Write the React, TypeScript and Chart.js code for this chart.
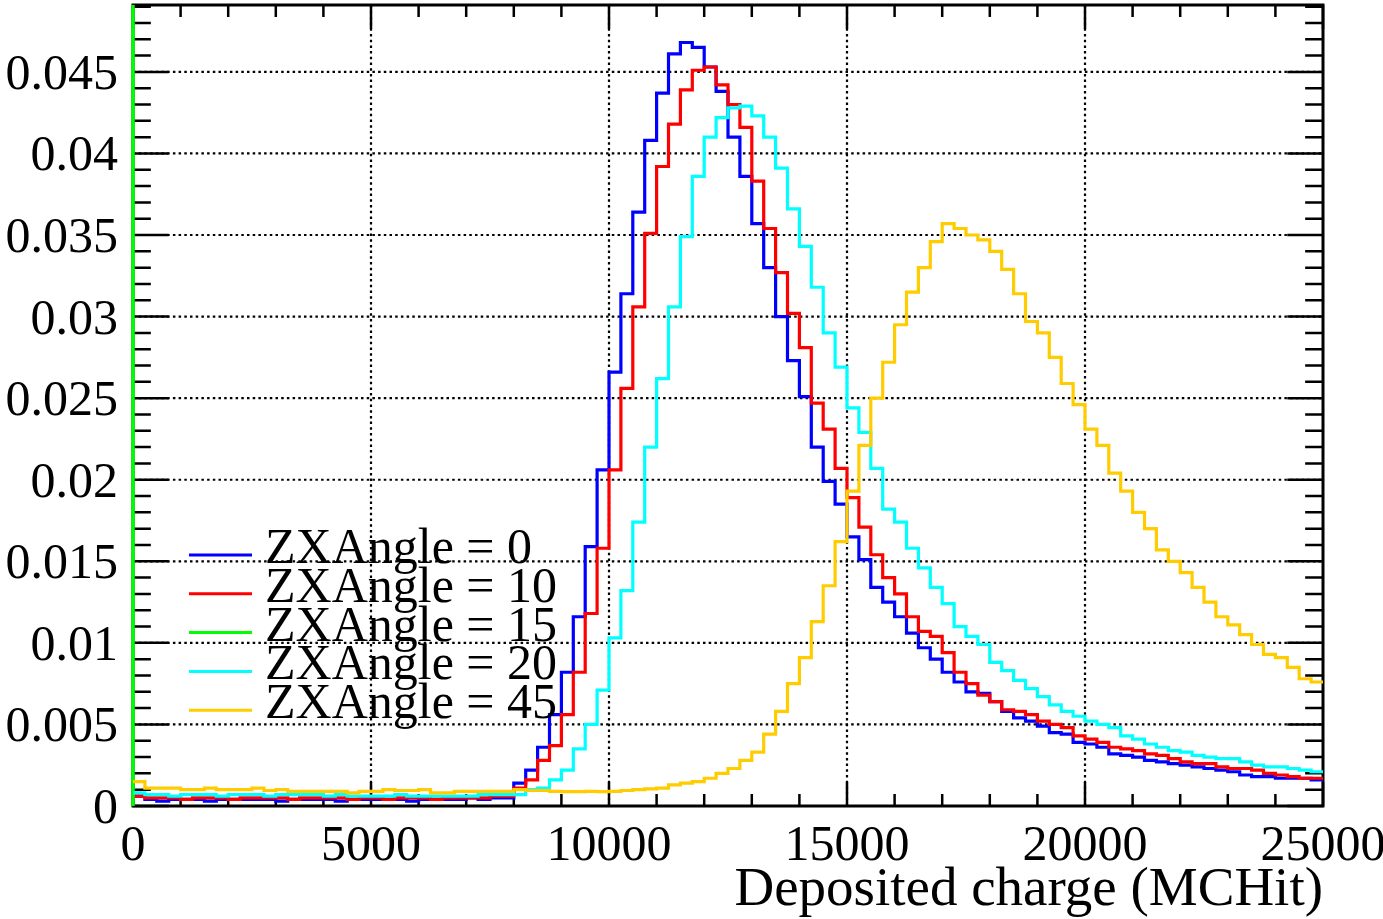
import { useEffect, useRef } from "react";
import { Chart, registerables } from "chart.js";

Chart.register(...registerables);

const CANVAS_W = 1383;
const CANVAS_H = 919;

// axis ranges
const xMin = 0;
const xMax = 25000;
const nBins = 100;
const yMin = 0;
const yMax = 0.0491;

// tick values and labels
const xMajorTicks = [0, 5000, 10000, 15000, 20000, 25000];
const xTickLabels = ["0", "5000", "10000", "15000", "20000", "25000"];
const xMinorStep = 1000;
const yMajorTicks = [0, 0.005, 0.01, 0.015, 0.02, 0.025, 0.03, 0.035, 0.04, 0.045];
const yTickLabels = ["0", "0.005", "0.01", "0.015", "0.02", "0.025", "0.03", "0.035", "0.04", "0.045"];
const yMinorStep = 0.001;
const yMajorEvery = 5;
const xTitle = "Deposited charge (MCHit)";

// series
const seriesLabels = ["ZXAngle = 0", "ZXAngle = 10", "ZXAngle = 15", "ZXAngle = 20", "ZXAngle = 45"];
const seriesColors = ["#0000ff", "#ff0000", "#00ff00", "#00ffff", "#ffcc00"];

const angle0 = [
  0.0006, 0.0004, 0.0003, 0.0004, 0.0004, 0.0004, 0.0003, 0.0004, 0.0004, 0.0004,
  0.0004, 0.0004, 0.0003, 0.0004, 0.0004, 0.0004, 0.0004, 0.0003, 0.0004, 0.0004,
  0.0004, 0.0004, 0.0004, 0.0003, 0.0004, 0.0004, 0.0004, 0.0004, 0.0005, 0.0004,
  0.0005, 0.0005, 0.0014, 0.0022, 0.0036, 0.0056, 0.0082, 0.0116, 0.0159, 0.0206,
  0.0266, 0.0314, 0.0364, 0.0408, 0.0437, 0.0461, 0.0468, 0.0465, 0.0453, 0.0438,
  0.0410, 0.0386, 0.0357, 0.0330, 0.0300, 0.0273, 0.0251, 0.0220, 0.0199, 0.0185,
  0.0165, 0.0151, 0.0134, 0.0125, 0.0116, 0.0106, 0.0097, 0.0090, 0.0082, 0.0076,
  0.0070, 0.0069, 0.0064, 0.0058, 0.0054, 0.0052, 0.0049, 0.0045, 0.0044, 0.0039,
  0.0038, 0.0036, 0.0032, 0.0031, 0.0030, 0.0028, 0.0027, 0.0026, 0.0025, 0.0024,
  0.0023, 0.0022, 0.0021, 0.0019, 0.0018, 0.0018, 0.0017, 0.0017, 0.0017, 0.0016,
];

const angle10 = [
  0.0006, 0.0005, 0.0005, 0.0005, 0.0004, 0.0005, 0.0005, 0.0005, 0.0004, 0.0005,
  0.0005, 0.0005, 0.0005, 0.0004, 0.0005, 0.0005, 0.0005, 0.0005, 0.0004, 0.0005,
  0.0005, 0.0004, 0.0005, 0.0005, 0.0005, 0.0004, 0.0005, 0.0005, 0.0005, 0.0005,
  0.0006, 0.0006, 0.0011, 0.0016, 0.0028, 0.0037, 0.0056, 0.0082, 0.0118, 0.0158,
  0.0206, 0.0256, 0.0306, 0.0351, 0.0392, 0.0418, 0.0439, 0.0451, 0.0453, 0.0442,
  0.0430, 0.0416, 0.0383, 0.0354, 0.0327, 0.0302, 0.0281, 0.0247, 0.0231, 0.0207,
  0.0189, 0.0171, 0.0154, 0.0140, 0.0130, 0.0116, 0.0107, 0.0104, 0.0094, 0.0082,
  0.0075, 0.0068, 0.0064, 0.0059, 0.0058, 0.0056, 0.0052, 0.0050, 0.0048, 0.0043,
  0.0041, 0.0039, 0.0036, 0.0035, 0.0034, 0.0032, 0.0031, 0.0029, 0.0027, 0.0026,
  0.0026, 0.0024, 0.0023, 0.0023, 0.0022, 0.0020, 0.0019, 0.0018, 0.0017, 0.0017,
];

// ZXAngle = 15 : only a vertical line at the left edge is visible
const angle15X = [0, 0];
const angle15Y = [0, 0.06];

const angle20 = [
  0.0008, 0.0007, 0.0007, 0.0006, 0.0007, 0.0007, 0.0007, 0.0006, 0.0007, 0.0007,
  0.0007, 0.0006, 0.0007, 0.0007, 0.0007, 0.0007, 0.0006, 0.0007, 0.0006, 0.0006,
  0.0006, 0.0006, 0.0007, 0.0006, 0.0006, 0.0006, 0.0006, 0.0006, 0.0006, 0.0007,
  0.0007, 0.0007, 0.0007, 0.0010, 0.0011, 0.0016, 0.0022, 0.0035, 0.0050, 0.0071,
  0.0103, 0.0132, 0.0174, 0.0220, 0.0262, 0.0306, 0.0349, 0.0386, 0.0410, 0.0422,
  0.0428, 0.0429, 0.0423, 0.0410, 0.0391, 0.0366, 0.0343, 0.0318, 0.0290, 0.0269,
  0.0244, 0.0229, 0.0207, 0.0182, 0.0174, 0.0158, 0.0146, 0.0134, 0.0124, 0.0110,
  0.0104, 0.0099, 0.0088, 0.0083, 0.0077, 0.0072, 0.0067, 0.0062, 0.0058, 0.0055,
  0.0052, 0.0050, 0.0048, 0.0043, 0.0041, 0.0038, 0.0036, 0.0034, 0.0033, 0.0031,
  0.0030, 0.0029, 0.0029, 0.0027, 0.0025, 0.0024, 0.0024, 0.0023, 0.0022, 0.0021,
];

const angle45 = [
  0.0015, 0.0011, 0.0011, 0.0011, 0.0010, 0.0010, 0.0011, 0.0010, 0.0010, 0.0010,
  0.0011, 0.00095, 0.0010, 0.0009, 0.0009, 0.0009, 0.0009, 0.0009, 0.0008, 0.0009,
  0.0009, 0.0010, 0.00095, 0.00095, 0.0010, 0.0008, 0.0008, 0.0009, 0.0009, 0.0009,
  0.0009, 0.0009, 0.0010, 0.00095, 0.00095, 0.0009, 0.00088, 0.00088, 0.0009, 0.00088,
  0.0009, 0.00095, 0.0010, 0.00105, 0.0011, 0.0013, 0.0014, 0.0015, 0.0017, 0.0020,
  0.0023, 0.0028, 0.0033, 0.0044, 0.0058, 0.0075, 0.0091, 0.0113, 0.0135, 0.0162,
  0.0193, 0.0221, 0.0250, 0.0272, 0.0295, 0.0315, 0.0330, 0.0346, 0.0357, 0.0354,
  0.0350, 0.0347, 0.0340, 0.0329, 0.0314, 0.0297, 0.0290, 0.0275, 0.0259, 0.0246,
  0.0231, 0.0221, 0.0204, 0.0193, 0.0180, 0.0170, 0.0157, 0.0150, 0.0143, 0.0134,
  0.0125, 0.0116, 0.0111, 0.0105, 0.0099, 0.0093, 0.0091, 0.0085, 0.0078, 0.0076,
];

const FONT = '"Liberation Serif", "Times New Roman", serif';

function histPoints(values: number[]) {
  const w = (xMax - xMin) / nBins;
  const pts = values.map((v, i) => ({ x: xMin + i * w, y: v }));
  pts.push({ x: xMax, y: values[values.length - 1] });
  return pts;
}

const rootStylePlugin = {
  id: "rootStyle",
  beforeDatasetsDraw(chart: any) {
    const { ctx, chartArea } = chart;
    const xs = chart.scales.x;
    const ys = chart.scales.y;
    const { left, right, top, bottom } = chartArea;
    ctx.save();
    // dotted grid
    ctx.strokeStyle = "#000";
    ctx.lineWidth = 2.2;
    ctx.setLineDash([2.5, 3.2]);
    xMajorTicks.forEach((v) => {
      if (v <= xMin || v >= xMax) return;
      const px = xs.getPixelForValue(v);
      ctx.beginPath();
      ctx.moveTo(px, bottom);
      ctx.lineTo(px, top);
      ctx.stroke();
    });
    yMajorTicks.forEach((v) => {
      if (v <= yMin || v >= yMax) return;
      const py = ys.getPixelForValue(v);
      ctx.beginPath();
      ctx.moveTo(left, py);
      ctx.lineTo(right, py);
      ctx.stroke();
    });
    ctx.setLineDash([]);
    // ticks
    const plotW = right - left;
    const plotH = bottom - top;
    ctx.lineWidth = 2.5;
    const nx = Math.round((xMax - xMin) / xMinorStep);
    for (let i = 0; i <= nx; i++) {
      const v = xMin + i * xMinorStep;
      const px = xs.getPixelForValue(v);
      const len = i % 5 === 0 ? 0.03 * plotH : 0.015 * plotH;
      ctx.beginPath();
      ctx.moveTo(px, bottom);
      ctx.lineTo(px, bottom - len);
      ctx.moveTo(px, top);
      ctx.lineTo(px, top + len);
      ctx.stroke();
    }
    const ny = Math.floor((yMax - yMin) / yMinorStep + 1e-9);
    for (let i = 0; i <= ny; i++) {
      const v = yMin + i * yMinorStep;
      const py = ys.getPixelForValue(v);
      const len = i % yMajorEvery === 0 ? 0.03 * plotW : 0.015 * plotW;
      ctx.beginPath();
      ctx.moveTo(left, py);
      ctx.lineTo(left + len, py);
      ctx.moveTo(right, py);
      ctx.lineTo(right - len, py);
      ctx.stroke();
    }
    // frame
    ctx.lineWidth = 3;
    ctx.strokeRect(left, top, plotW, plotH);
    ctx.restore();
  },
  afterDraw(chart: any) {
    const { ctx, chartArea } = chart;
    const xs = chart.scales.x;
    const ys = chart.scales.y;
    ctx.save();
    ctx.fillStyle = "#000";
    ctx.font = `50px ${FONT}`;
    // x tick labels
    ctx.textAlign = "center";
    ctx.textBaseline = "alphabetic";
    xMajorTicks.forEach((v, i) => {
      ctx.fillText(xTickLabels[i], xs.getPixelForValue(v), chartArea.bottom + 54);
    });
    // y tick labels
    ctx.textAlign = "right";
    yMajorTicks.forEach((v, i) => {
      ctx.fillText(yTickLabels[i], chartArea.left - 15, ys.getPixelForValue(v) + 17);
    });
    // x title
    ctx.font = `55px ${FONT}`;
    ctx.textAlign = "right";
    ctx.fillText(xTitle, chartArea.right, chartArea.bottom + 99);
    // legend
    const legX0 = 189;
    const legX1 = 252;
    const legTextX = 265;
    const legY0 = 555;
    const legDy = 38.8;
    ctx.font = `50px ${FONT}`;
    ctx.textAlign = "left";
    chart.data.datasets.forEach((ds: any, i: number) => {
      const y = legY0 + i * legDy;
      ctx.strokeStyle = ds.borderColor;
      ctx.lineWidth = 3;
      ctx.beginPath();
      ctx.moveTo(legX0, y);
      ctx.lineTo(legX1, y);
      ctx.stroke();
      ctx.fillStyle = "#000";
      ctx.fillText(ds.label, legTextX, y + 8);
    });
    ctx.restore();
  },
};

export default function App() {
  const canvasRef = useRef<HTMLCanvasElement | null>(null);

  useEffect(() => {
    const canvas = canvasRef.current;
    if (!canvas) return;
    const seriesData = [
      histPoints(angle0),
      histPoints(angle10),
      angle15X.map((x, i) => ({ x, y: angle15Y[i] })),
      histPoints(angle20),
      histPoints(angle45),
    ];
    const chart = new Chart(canvas, {
      type: "line",
      data: {
        datasets: seriesData.map((d, i) => ({
          label: seriesLabels[i],
          data: d,
          borderColor: seriesColors[i],
          backgroundColor: seriesColors[i],
          borderWidth: i === 2 ? 3.5 : 3.2,
          stepped: i === 2 ? false : true,
          fill: false,
          pointRadius: 0,
          tension: 0,
          order: seriesLabels.length - i,
          clip: i === 2 ? { left: 4, top: 0, right: 0, bottom: 0 } : 2,
        })),
      },
      options: {
        responsive: false,
        animation: false,
        layout: {
          padding: { left: 133, right: CANVAS_W - 1323, top: 5, bottom: CANVAS_H - 806 },
        },
        scales: {
          x: { type: "linear", min: xMin, max: xMax, display: false },
          y: { type: "linear", min: yMin, max: yMax, display: false },
        },
        plugins: {
          legend: { display: false },
          tooltip: { enabled: false },
        },
      },
      plugins: [rootStylePlugin],
    } as any);
    return () => chart.destroy();
  }, []);

  return (
    <div style={{ position: "absolute", left: 0, top: 0, width: CANVAS_W, height: CANVAS_H, background: "#fff" }}>
      <canvas ref={canvasRef} width={CANVAS_W} height={CANVAS_H} style={{ width: CANVAS_W, height: CANVAS_H }} />
    </div>
  );
}
